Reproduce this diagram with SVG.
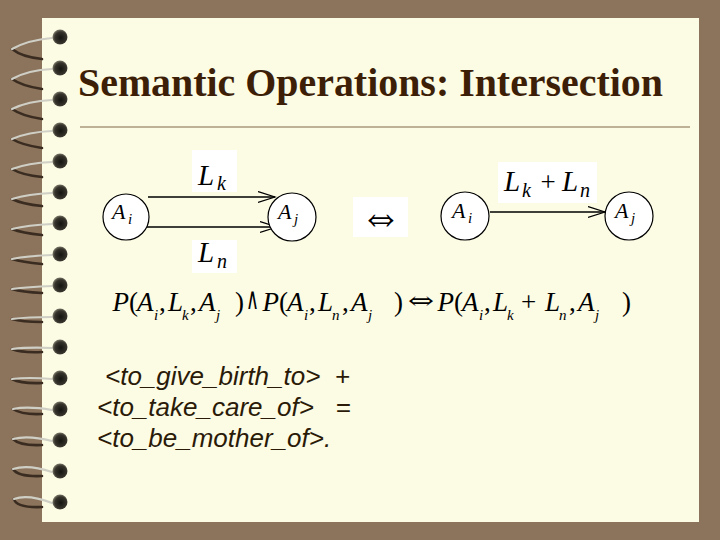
<svg xmlns="http://www.w3.org/2000/svg" width="720" height="540" viewBox="0 0 720 540">
<defs>
<radialGradient id="bg1" cx="0.55" cy="0.55" r="0.6">
<stop offset="0" stop-color="#15140f"/>
<stop offset="0.65" stop-color="#35332b"/>
<stop offset="1" stop-color="#8d8a78"/>
</radialGradient>
<style>
.bg{fill:#8b735c}
.page{fill:#fcfbe4}
.ball{fill:url(#bg1)}
.wf{fill:none;stroke:#cfcfc6;stroke-width:2.2;stroke-linecap:round}
.wb{fill:none;stroke:#3a2c20;stroke-width:2.6;stroke-linecap:round}
.title{font-family:"Liberation Serif",serif;font-weight:bold;font-size:40px;fill:#3d1f08}
.node{fill:#fff;stroke:#000;stroke-width:1.2}
.edge{fill:none;stroke:#000;stroke-width:1.3}
.mi{font-family:"Liberation Serif","DejaVu Serif",serif;font-style:italic;fill:#000}
.mr{font-family:"Liberation Serif","DejaVu Serif",serif;fill:#000}
.ms{font-family:"DejaVu Serif",serif;fill:#000}
.box{fill:#fff}
.body{font-family:"Liberation Sans",Arial,sans-serif;font-style:italic;font-size:26px;fill:#2a1a08}
</style>
<marker id="ah" markerWidth="20" markerHeight="14" refX="17" refY="6" orient="auto" markerUnits="userSpaceOnUse">
<path d="M0,0.5 L17,6 L0,11.5" fill="none" stroke="#000" stroke-width="1.2"/>
</marker>
</defs>
<rect class="bg" x="0" y="0" width="720" height="540"/>
<rect class="page" x="42" y="18" width="657" height="504"/>
<g id="spiral">
<g id="ring1"><path class="wb" d="M12,49 Q22,57 42,59"/><path class="wf" d="M52,38 Q28,40 12,49"/><circle class="ball" cx="60" cy="37" r="7.5"/></g>
<g id="ring2"><path class="wb" d="M12,79 Q22,86 42,89"/><path class="wf" d="M52,69 Q28,70 12,79"/><circle class="ball" cx="60" cy="68" r="7.5"/></g>
<g id="ring3"><path class="wb" d="M12,109 Q22,116 42,119"/><path class="wf" d="M52,100 Q28,101 12,109"/><circle class="ball" cx="60" cy="99" r="7.5"/></g>
<g id="ring4"><path class="wb" d="M12,139 Q22,145 42,148"/><path class="wf" d="M52,131 Q28,132 12,139"/><circle class="ball" cx="60" cy="130" r="7.5"/></g>
<g id="ring5"><path class="wb" d="M12,169 Q22,175 42,177"/><path class="wf" d="M52,162 Q28,163 12,169"/><circle class="ball" cx="60" cy="161" r="7.5"/></g>
<g id="ring6"><path class="wb" d="M12,199 Q22,204 42,206"/><path class="wf" d="M52,193 Q28,194 12,199"/><circle class="ball" cx="60" cy="192" r="7.5"/></g>
<g id="ring7"><path class="wb" d="M12,229 Q22,233 42,235"/><path class="wf" d="M52,224 Q28,225 12,229"/><circle class="ball" cx="60" cy="223" r="7.5"/></g>
<g id="ring8"><path class="wb" d="M12,259 Q22,262 42,264"/><path class="wf" d="M52,255 Q28,256 12,259"/><circle class="ball" cx="60" cy="254" r="7.5"/></g>
<g id="ring9"><path class="wb" d="M12,289 Q22,292 42,293"/><path class="wf" d="M52,286 Q28,287 12,289"/><circle class="ball" cx="60" cy="285" r="7.5"/></g>
<g id="ring10"><path class="wb" d="M12,319 Q22,322 42,322"/><path class="wf" d="M52,317 Q28,317 12,319"/><circle class="ball" cx="60" cy="316" r="7.5"/></g>
<g id="ring11"><path class="wb" d="M12,349 Q22,353 42,352"/><path class="wf" d="M52,348 Q28,347 12,349"/><circle class="ball" cx="60" cy="347" r="7.5"/></g>
<g id="ring12"><path class="wb" d="M12,379 Q22,384 42,383"/><path class="wf" d="M52,379 Q28,377 12,379"/><circle class="ball" cx="60" cy="378" r="7.5"/></g>
<g id="ring13"><path class="wb" d="M13,409 Q22,415 42,414"/><path class="wf" d="M52,410 Q28,406 13,409"/><circle class="ball" cx="60" cy="409" r="7.5"/></g>
<g id="ring14"><path class="wb" d="M13,439 Q20,446 42,445"/><path class="wf" d="M52,441 Q28,435 13,439"/><circle class="ball" cx="60" cy="440" r="7.5"/></g>
<g id="ring15"><path class="wb" d="M13,469 Q18,477 42,476"/><path class="wf" d="M52,472 Q28,464 13,469"/><circle class="ball" cx="60" cy="471" r="7.5"/></g>
<g id="ring16"><path class="wb" d="M14,499 Q16,508 42,507"/><path class="wf" d="M52,503 Q28,494 14,499"/><circle class="ball" cx="60" cy="502" r="7.5"/></g>
</g>
<g id="title">
<text class="title" x="78" y="96" textLength="585" lengthAdjust="spacingAndGlyphs">Semantic Operations: Intersection</text>
<line x1="80" y1="127" x2="690" y2="127" stroke="#a8987c" stroke-width="1.3"/>
</g>
<g id="connectors">
<line class="edge" x1="148" y1="197" x2="275" y2="197" marker-end="url(#ah)"/>
<line class="edge" x1="146" y1="227" x2="277" y2="227" marker-end="url(#ah)"/>
<line class="edge" x1="490" y1="212" x2="605" y2="212" marker-end="url(#ah)"/>
</g>
<g id="label-Lk">
<rect class="box" x="192" y="150" width="45" height="42"/>
<text class="mi" x="198" y="185" font-size="29">L</text><text class="mi" x="217" y="190" font-size="20">k</text>
</g>
<g id="label-Ln">
<rect class="box" x="192" y="240" width="45" height="33"/>
<text class="mi" x="198" y="262" font-size="29">L</text><text class="mi" x="217" y="268" font-size="20">n</text>
</g>
<g id="node-Ai-left">
<circle class="node" cx="126" cy="217" r="23"/>
<text class="mi" x="112" y="219" font-size="22">A</text><text class="mi" x="128" y="224" font-size="15">i</text>
</g>
<g id="node-Aj-left">
<circle class="node" cx="292" cy="217" r="24"/>
<text class="mi" x="278" y="219" font-size="22">A</text><text class="mi" x="294" y="224" font-size="15">j</text>
</g>
<g id="equiv">
<rect class="box" x="353" y="197" width="55" height="40"/>
<text class="mr" x="360" y="232" font-size="50" textLength="42" lengthAdjust="spacingAndGlyphs">⇔</text>
</g>
<g id="node-Ai-right">
<circle class="node" cx="465" cy="216" r="24"/>
<text class="mi" x="452" y="218" font-size="22">A</text><text class="mi" x="468" y="223" font-size="15">i</text>
</g>
<g id="node-Aj-right">
<circle class="node" cx="629" cy="216" r="24"/>
<text class="mi" x="615" y="218" font-size="22">A</text><text class="mi" x="631" y="223" font-size="15">j</text>
</g>
<g id="label-LkLn">
<rect class="box" x="498" y="162" width="99" height="41"/>
<text class="mi" x="504" y="191" font-size="29">L</text><text class="mi" x="522" y="197" font-size="20">k</text>
<text class="mr" x="548" y="191" font-size="27" text-anchor="middle">+</text>
<text class="mi" x="562" y="191" font-size="29">L</text><text class="mi" x="580" y="197" font-size="20">n</text>
</g>
<g id="formula" font-size="27">
<text class="mi" x="112.5" y="311">P</text>
<text class="mr" x="129" y="311">(</text>
<text class="mi" x="137" y="311">A</text>
<text class="mi" x="154" y="320" font-size="15">i</text>
<text class="mr" x="159" y="311">,</text>
<text class="mi" x="168" y="311">L</text>
<text class="mi" x="182" y="320" font-size="15">k</text>
<text class="mr" x="190" y="311">,</text>
<text class="mi" x="199" y="311">A</text>
<text class="mi" x="216" y="320" font-size="15">j</text>
<text class="mr" x="235" y="311">)</text>
<text class="ms" x="246" y="309" font-size="30" textLength="13" lengthAdjust="spacingAndGlyphs">∧</text>
<text class="mi" x="262.5" y="311">P</text>
<text class="mr" x="279" y="311">(</text>
<text class="mi" x="287" y="311">A</text>
<text class="mi" x="304" y="320" font-size="15">i</text>
<text class="mr" x="309" y="311">,</text>
<text class="mi" x="318" y="311">L</text>
<text class="mi" x="332" y="320" font-size="15">n</text>
<text class="mr" x="342" y="311">,</text>
<text class="mi" x="351" y="311">A</text>
<text class="mi" x="368" y="320" font-size="15">j</text>
<text class="mr" x="394" y="311">)</text>
<text class="ms" x="408" y="309" font-size="24" textLength="26" lengthAdjust="spacingAndGlyphs">⇔</text>
<text class="mi" x="437.5" y="311">P</text>
<text class="mr" x="454" y="311">(</text>
<text class="mi" x="462" y="311">A</text>
<text class="mi" x="479" y="320" font-size="15">i</text>
<text class="mr" x="484" y="311">,</text>
<text class="mi" x="493" y="311">L</text>
<text class="mi" x="507" y="320" font-size="15">k</text>
<text class="mr" x="521" y="311">+</text>
<text class="mi" x="545" y="311">L</text>
<text class="mi" x="559" y="320" font-size="15">n</text>
<text class="mr" x="569" y="311">,</text>
<text class="mi" x="578" y="311">A</text>
<text class="mi" x="595" y="320" font-size="15">j</text>
<text class="mr" x="622" y="311">)</text>
</g>
<g id="body">
<text class="body" x="105" y="385" xml:space="preserve">&lt;to_give_birth_to&gt;  +</text>
<text class="body" x="97" y="416" xml:space="preserve">&lt;to_take_care_of&gt;   =</text>
<text class="body" x="97" y="447">&lt;to_be_mother_of&gt;.</text>
</g>
</svg>
